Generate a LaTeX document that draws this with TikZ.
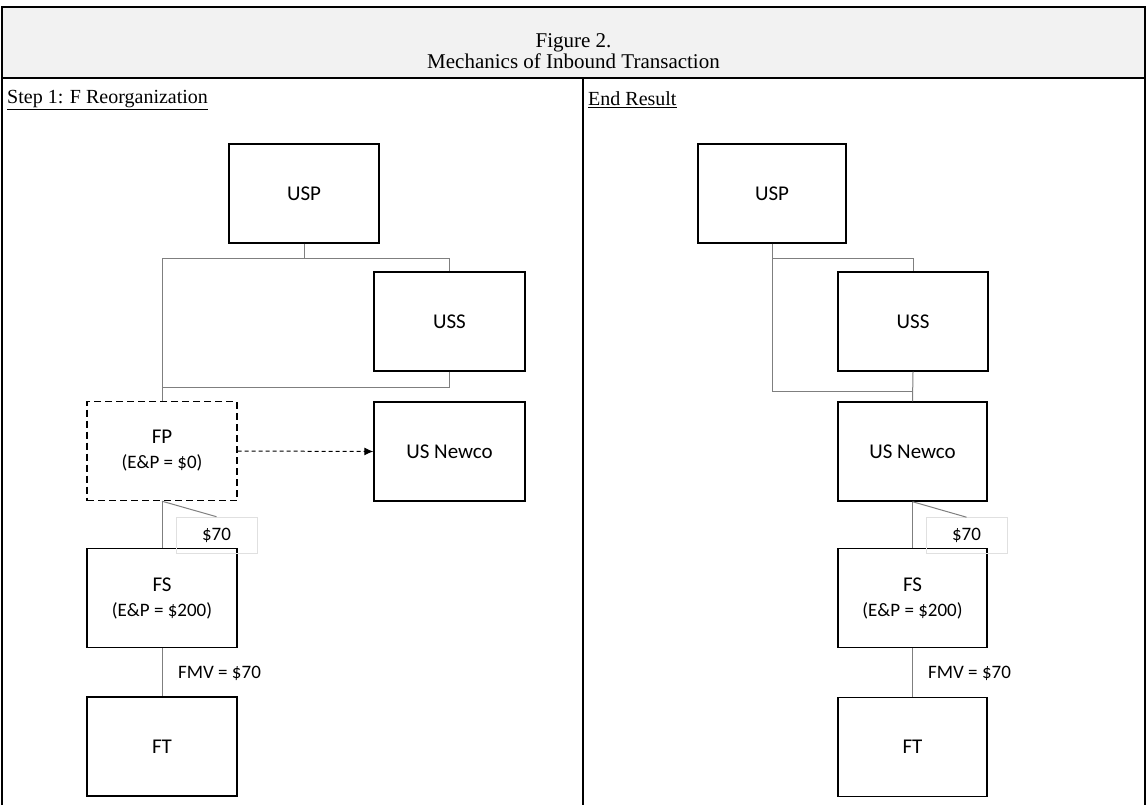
\documentclass[tikz,border=0pt]{standalone}
\usepackage{fontspec}
\setmainfont{Liberation Serif}
\newfontfamily\boxfont{Carlito}
\usetikzlibrary{arrows.meta}

\definecolor{headfill}{HTML}{F2F2F2}
\definecolor{linkgray}{HTML}{7F7F7F}

\tikzset{
  entity/.style={draw, line width=1.4pt, minimum width=150pt, minimum height=99pt,
    align=center, font=\boxfont\fontsize{21}{25}\selectfont},
  link/.style={draw=linkgray, line width=1pt},
  amount/.style={draw=black!12, line width=0.6pt, minimum width=81pt, minimum height=36pt,
    inner sep=0pt, font=\boxfont\fontsize{19}{22}\selectfont},
  note/.style={anchor=west, inner sep=0pt, font=\boxfont\fontsize{19}{22}\selectfont},
  panel/.style={anchor=west, inner sep=0pt, font=\fontsize{20}{24}\selectfont},
}

\newcommand{\ep}[1]{{\fontsize{19}{23}\selectfont(E\&P = \$#1)}}

\begin{document}
\begin{tikzpicture}[x=1pt,y=-1pt]
        \useasboundingbox (0,0) rectangle (1147,805);

        % frame and header
        \fill[headfill] (2,7) rectangle (1145,78);
        \draw[line width=2pt] (2,805) -- (2,7) -- (1145,7) -- (1145,805);
        \draw[line width=2pt] (2,78) -- (1145,78);
        \draw[line width=2pt] (583,78) -- (583,805);
        \node[align=center, font=\fontsize{21}{21}\selectfont] (title) at (573.5,51)
            {Figure 2.\\Mechanics of Inbound Transaction};

        \node[panel] (stepone) at (7,100) {\underline{Step 1: F Reorganization}};
        \node[panel] (endresult) at (588,100) {\underline{End Result}};

        % Step 1
        \node[entity, minimum width=150pt] (uspL) at (304,193.5) {USP};
        \node[entity, minimum width=151pt] (ussL) at (449.5,321.5) {USS};
        \node[entity, dash pattern=on 7pt off 4pt] (fpL) at (162,451) {FP\\\ep{0}};
        \node[entity, minimum width=151pt] (newcoL) at (449.5,451.5) {US Newco};
        \node[entity] (fsL) at (162,598) {FS\\\ep{200}};
        \node[entity] (ftL) at (162,746.5) {FT};

        \coordinate (jL) at (uspL.south |- 0,258);
        \coordinate (kL) at (fpL.north |- 0,387);
        \draw[link] (uspL.south) -- (jL);
        \draw[link] (jL) -| (ussL.north);
        \draw[link] (jL) -| (fpL.north);
        \draw[link] (ussL.south) |- (kL);
        \draw[dash pattern=on 4pt off 3pt, line width=1pt, -{Latex[length=9pt,width=8pt]}] (fpL.east) -- (newcoL.west);

        \node[amount] (amtL) at (216.5,535) {\$70};
        \draw[link] (fpL.south) -- (fsL.north);
        \draw[link] (fpL.south) -- (amtL.north);

        \draw[link] (fsL.south) -- (ftL.north);
        \node[note] (fmvL) at (178,673) {FMV = \$70};

        % End Result
        \node[entity, minimum width=148pt] (uspR) at (772,193.5) {USP};
        \node[entity] (ussR) at (913,321.5) {USS};
        \node[entity, minimum width=149pt] (newcoR) at (912.5,451.5) {US Newco};
        \node[entity, minimum width=149pt] (fsR) at (912.5,598) {FS\\\ep{200}};
        \node[entity, minimum width=149pt] (ftR) at (912.5,747) {FT};

        \coordinate (jR) at (uspR.south |- 0,258);
        \coordinate (kR) at (uspR.south |- 0,391);
        \draw[link] (uspR.south) -- (kR) -- (kR -| newcoR.north);
        \draw[link] (jR) -| (ussR.north);
        \draw[link] (ussR.south) -- (newcoR.north);

        \node[amount] (amtR) at (966.5,535.5) {\$70};
        \draw[link] (newcoR.south) -- (fsR.north);
        \draw[link] (newcoR.south) -- (amtR.north);

        \draw[link] (fsR.south) -- (ftR.north);
        \node[note] (fmvR) at (928,673) {FMV = \$70};
\end{tikzpicture}
\end{document}
